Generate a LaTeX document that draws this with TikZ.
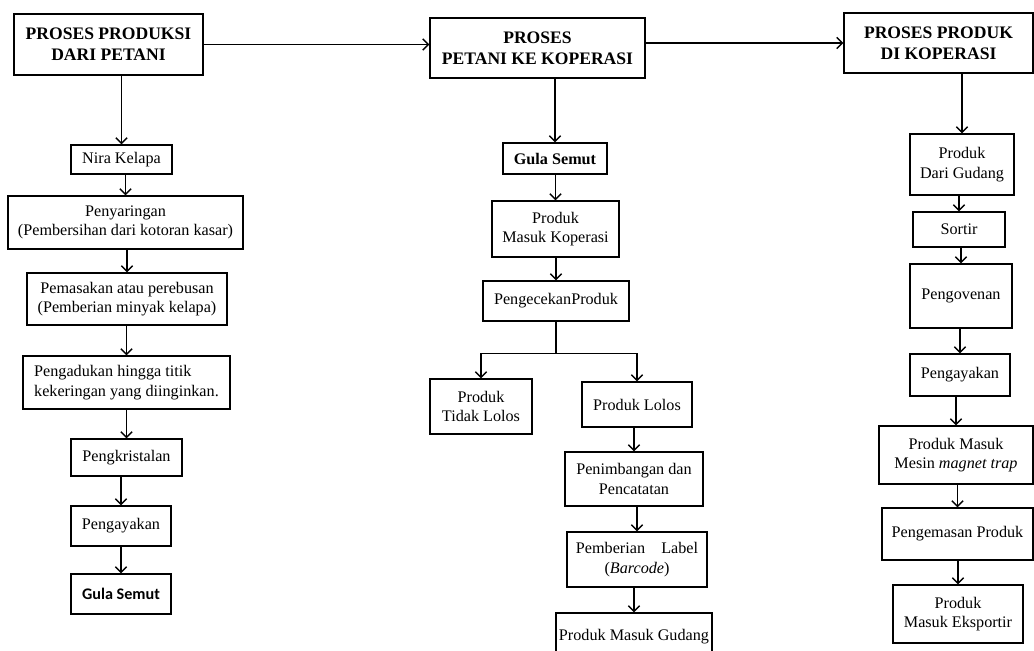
\documentclass[tikz,border=0pt]{standalone}
\usepackage{fontspec}
\setmainfont{Liberation Serif}
\newfontfamily\calibri{Carlito}
\usetikzlibrary{arrows.meta}

\tikzset{
kotak/.style={draw,line width=1pt,align=center,inner sep=2pt,font=\fontsize{11.5}{14}\selectfont},
judul/.style={kotak,font=\fontsize{12.5}{15}\selectfont\bfseries},
ukuran/.style 2 args={minimum width=#1*0.025cm,minimum height=#2*0.025cm},
panah/.style={line width=1pt,-{Straight Barb[length=4pt,width=8pt]}}
}

\begin{document}
\begin{tikzpicture}[x=0.025cm,y=-0.025cm]
\useasboundingbox (0,0) rectangle (1034,651);
% kolom petani
\node[judul,ukuran={189}{61}](petani)at(108.5,44.5){PROSES PRODUKSI\\DARI PETANI};
\node[kotak,ukuran={101}{29}](nira)at(121.5,159.5){Nira Kelapa};
\node[kotak,ukuran={235}{53}](saring)at(125.5,222.5){Penyaringan\\(Pembersihan dari kotoran kasar)};
\node[kotak,ukuran={200}{52}](masak)at(127,299){Pemasakan atau perebusan\\(Pemberian minyak kelapa)};
\node[kotak,align=left,ukuran={207}{53}](aduk)at(126.5,382.5){Pengadukan hingga titik\\kekeringan yang diinginkan.};
\node[kotak,ukuran={111}{37}](kristal)at(126.5,457.5){Pengkristalan};
\node[kotak,ukuran={100}{40}](ayakA)at(121,526){Pengayakan};
\node[kotak,ukuran={100}{40},font=\calibri\bfseries\fontsize{11.5}{14}\selectfont](gulaA)at(121,594){Gula Semut};
% kolom koperasi
\node[judul,ukuran={215}{60}](tengah)at(537.5,48){PROSES\\PETANI KE KOPERASI};
\node[kotak,ukuran={104}{31},font=\bfseries\fontsize{11.5}{14}\selectfont](gulaB)at(555,158.5){Gula Semut};
\node[kotak,ukuran={127}{56}](masuk)at(555.5,229){Produk\\Masuk Koperasi};
\node[kotak,ukuran={146}{40}](cek)at(556,301){PengecekanProduk};
\node[kotak,ukuran={102}{55}](tidak)at(481,406.5){Produk\\Tidak Lolos};
\node[kotak,ukuran={110}{45}](lolos)at(637,404.5){Produk Lolos};
\node[kotak,ukuran={138}{54}](timbang)at(634,479){Penimbangan dan\\Pencatatan};
\node[kotak,ukuran={140}{55}](label)at(637,559.5){Pemberian\hspace{1em}Label\\(\textit{Barcode})};
\node[kotak,ukuran={156}{48}](gudang)at(634,637){Produk Masuk Gudang};
% kolom di koperasi
\node[judul,ukuran={189}{60}](koperasi)at(938.5,43){PROSES PRODUK\\DI KOPERASI};
\node[kotak,ukuran={104}{61}](dari)at(962,164.5){Produk\\Dari Gudang};
\node[kotak,ukuran={92}{35}](sortir)at(959,229.5){Sortir};
\node[kotak,ukuran={102}{64}](oven)at(961,296){Pengovenan};
\node[kotak,ukuran={100}{42}](ayakB)at(960,375){Pengayakan};
\node[kotak,ukuran={154}{58}](mesin)at(956,455){Produk Masuk\\Mesin \textit{magnet trap}};
\node[kotak,ukuran={151}{52}](kemas)at(957.5,534){Pengemasan Produk};
\node[kotak,ukuran={130}{58}](ekspor)at(958,614){Produk\\Masuk Eksportir};
% panah
\draw[panah](petani.east)--(petani.east-|tengah.west);
\draw[panah](tengah.east|-koperasi.west)--(koperasi.west);
\foreach \a/\b in {petani/nira,nira/saring,saring/masak,masak/aduk,aduk/kristal,kristal/ayakA,ayakA/gulaA,
tengah/gulaB,gulaB/masuk,masuk/cek,lolos/timbang,timbang/label,label/gudang,
koperasi/dari,dari/sortir,sortir/oven,oven/ayakB,ayakB/mesin,mesin/kemas,kemas/ekspor}
\draw[panah](\b.north|-\a.south)--(\b.north);
\draw[line width=1pt](cek.south)--++(0,32)coordinate(cabang);
\draw[panah](cabang)-|(tidak.north);
\draw[panah](cabang)-|(lolos.north);
\end{tikzpicture}
\end{document}
